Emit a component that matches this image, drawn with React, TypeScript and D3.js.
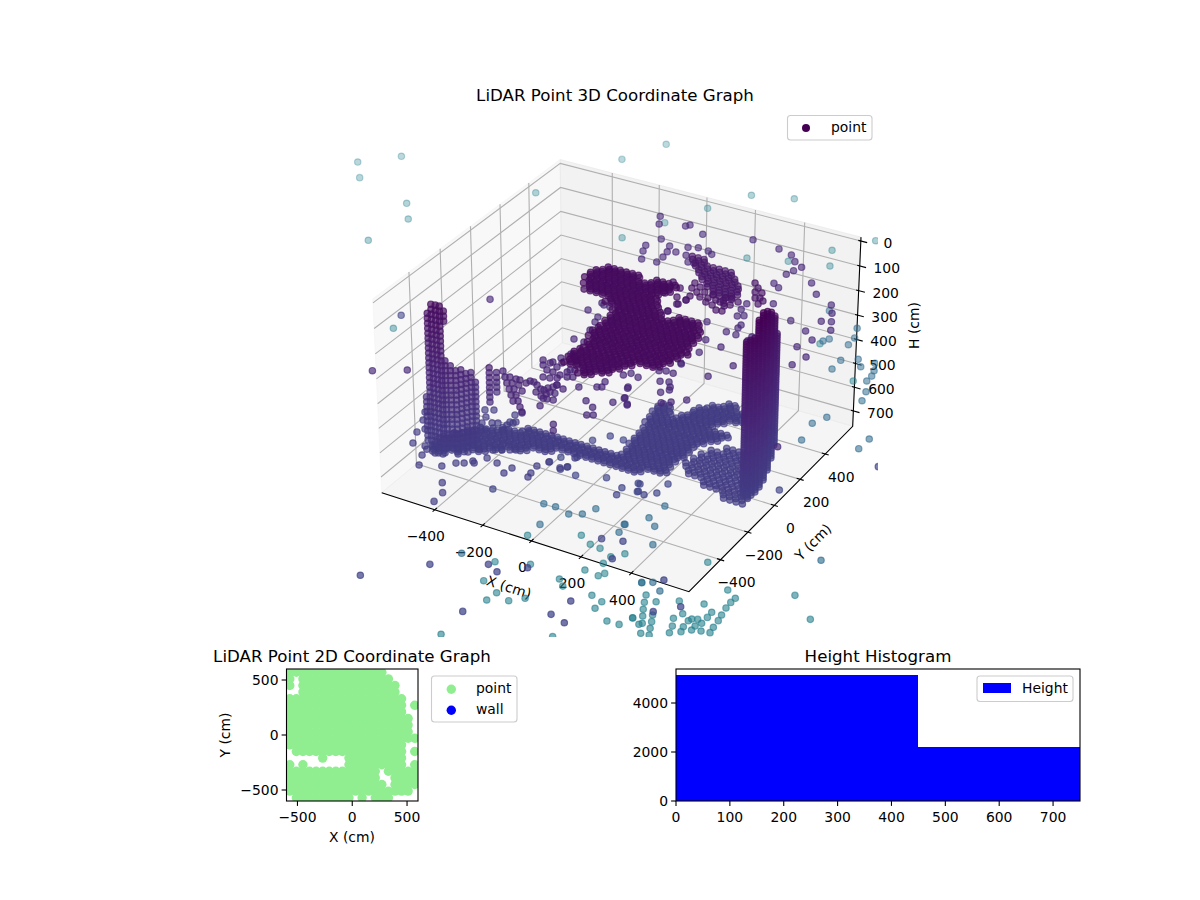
import { useEffect, useRef } from 'react';
import * as d3 from 'd3';

type Pair = [number, number];
type Point = [number, number, number];

// Height each group of scattered returns was read at (colour follows height)
const farHeight = 1700;
const midHeight = 1350;
const lowHeight = 800;
const innerHeight3d = 450;
const islandHeight = 400;
const chainHeight = 220;
const floorHeight = 700;
const ceilingHeight = 120;
const fanHeight = 250;

const farTop: Pair[] = [[-3315,3102],[-3162,3266],[-3208,2962],[-2852,2845],[-2753,2709],[-2796,2429],[-2366,3257],[-2185,3790],[-1761,3057],[-2216,1774],[-2077,4051],[-1436,3762],[-1237,3834],[-1555,3532],[-699,3635],[-835,3443],[-1148,3173],[-964,3241],[-773,3297],[-1661,3295],[-480,2613],[-204,2390]];

const tealLow: Pair[] = [[-170,488],[-113,467],[-151,441],[-131,397],[-110,356],[-80,381],[-61,340],[-87,312],[-44,298],[-59,251],[-25,257],[-138,326],[-37,517],[17,447],[1,402],[23,354],[35,309],[59,416],[65,433],[86,443],[62,371],[100,368],[112,427],[99,398],[135,380],[170,388],[164,426],[112,473],[110,512],[57,547],[159,475],[152,515],[144,566],[142,609],[144,643],[91,679],[70,338],[337,778],[464,661],[-71,812],[-808,391],[-775,254],[-686,208],[-693,146],[-616,185],[-569,231],[-676,446],[-522,414],[-485,378],[-353,380],[-297,361],[-297,309],[-213,257],[-161,261],[-137,325],[-721,-139],[-341,62],[-95,300],[-227,554],[-467,519],[-387,538],[-401,511],[-428,597],[-796,620],[-608,729],[-543,690],[-494,684],[-426,653],[-388,700]];

const blueMid: Pair[] = [[-305,2332],[-132,2252],[-104,2171],[-101,2105],[-70,1970],[-10,2014],[27,1963],[66,2019],[90,1961],[101,1916],[101,1869],[137,1788],[155,1714],[89,1523],[59,1451],[81,1313],[314,1456],[310,1368],[-209,2080],[-194,2109],[-69,1886],[-572,386],[-521,390],[-450,371],[-404,397],[-378,456],[-508,252],[-227,415],[-216,356],[-224,416],[-61,346],[-118,461],[-167,503],[-155,607],[29,102],[65,123],[116,86],[-661,-69],[543,571]];

const darkLow: Pair[] = [[-425,-1057],[-255,-881],[-80,-780],[-30,-804],[-3,-1065],[281,-830],[328,-951],[264,-931],[177,-445],[250,-422],[273,-536],[554,-745],[492,-561],[620,-673],[48,-730],[807,469],[-1321,547],[-325,-360],[569,148],[72,-121],[79,-171],[133,-116],[108,-66],[-10,-90],[-115,-132],[-170,-96],[-184,-124],[-245,-99],[-225,-52],[-174,-23],[-185,108],[-144,167],[-88,167],[116,-67],[135,-112],[164,-122],[198,-89],[203,-16]];

const purpleInner: Pair[] = [[-738,293],[-821,-371],[-715,-304],[-519,1205],[-490,1145],[-392,1182],[-381,1198],[-300,1154],[-109,1212],[-421,1039],[-447,963],[-433,917],[-405,857],[-364,1004],[-349,958],[-342,912],[-319,973],[-343,865],[-297,1030],[-261,1047],[-272,969],[-239,925],[-214,927],[-215,1043],[-190,1025],[14,1194],[78,1174],[115,1132],[158,1104],[144,1064],[133,1025],[248,1011],[304,940],[126,937],[157,915],[198,794],[390,894],[421,838],[314,711],[414,763],[448,779],[475,720],[397,669],[448,621],[423,549],[486,498],[468,423],[147,518],[184,408],[110,428],[134,334],[119,227],[287,310],[245,198],[49,549],[188,516],[170,590],[171,564],[247,499],[246,532],[-117,547],[-99,656],[-114,611],[112,744],[114,696],[126,643],[146,658],[96,156],[126,154],[73,145],[31,66],[-5,78],[-23,54],[684,-106],[-378,406],[-319,378],[-309,340],[-294,278],[-346,469],[-319,467],[-360,478],[-311,191],[-268,190],[-280,47],[-264,90],[114,233],[34,-11],[-118,-99],[-62,-67],[-47,-58],[164,64],[190,-48],[218,-26],[259,14],[113,81],[143,93],[153,14],[172,44],[62,-87],[91,-116],[-47,-169],[-4,-196],[5,-252],[25,-241],[41,-131],[62,-82],[94,-122],[37,-20],[-56,-20],[-194,-126],[-169,-180],[-150,-223],[-170,-280],[-187,-230],[-64,-365],[-42,-402]];

const islands: Pair[] = [[-366,-211],[-337,-244],[-309,-276],[-280,-308],[-252,-340],[-224,-372],[-322,-235],[-293,-267],[-265,-299],[-237,-331],[-209,-363],[-182,-394],[-158,-420],[-296,-236],[-265,-267],[-233,-297],[-280,-235],[-250,-242],[-245,-223],[-230,-222],[-209,-235],[-183,-252],[-187,-278],[-170,-252],[-149,-272],[-157,-293],[-165,-233],[-153,-218],[-144,-254],[-128,-300],[-264,-103],[-250,-78],[-214,-90],[-213,-57],[-162,-85],[-208,12],[-177,-11],[-128,-123],[-146,-133],[-175,-134],[-208,-128],[-234,-126],[-220,-176],[-195,-170],[-173,-157],[-164,-103],[-147,-77],[-245,-67],[-148,-199],[-115,-213],[-283,-72]];

const chain: Pair[] = [[78,375],[108,358],[101,319],[136,330],[133,372],[164,338],[169,367],[196,339],[202,300],[216,334],[243,315],[254,278],[232,274],[172,308],[220,371],[239,381],[272,366],[258,332],[100,396],[69,414],[258,523],[285,495],[315,468],[290,463],[326,432],[311,423],[346,417],[341,389],[-3,381],[41,354],[12,294],[64,289],[103,286],[93,245],[87,182],[-10,333]];

const floorScatter: Pair[] = [[-736,-170],[-711,-221],[-684,-303],[-670,-271],[-654,-375],[-580,-428],[-605,-370],[-547,-393],[-519,-384],[-478,-455],[-552,-490],[-472,-357],[-445,-413],[-420,-398],[-400,-371],[-389,-380],[-448,-328],[-367,-328],[-318,-339],[-428,-292],[-378,-271],[-350,-255],[-325,-240],[-306,-230],[-553,-47],[-524,-31],[-523,-88],[-513,-131],[-481,-113],[-462,-102],[-426,-98],[-477,-168],[-459,-141],[-423,-137],[-414,-75],[-409,-63],[-438,-23],[-423,2],[-428,-74],[-261,-384],[-254,-341],[-184,-285],[-161,-240],[-106,-255],[-87,-237],[-94,-170],[-173,-364],[-178,-336],[-374,-666],[-416,-548],[-379,-603]];

// LiDAR rings: the heights at which a wall is hit
const ringHeights = [20,30,40,50,60,70,80,90,100,110,120,130,140,150,160,170,180,190,200,210,220,230,240,250,260,270,280,290,300,310,320,330,340,350,360,370,380,390,400,410,420,430,440,450,460,470,480,490,500,510,520,530,540,550,560,570,580,590,600,610,620,630,640,650,660,670,680,690,700,710,720];
const coarseRingHeights = [100,120,140,160,180,200,220,240,260,280,300,320,340,360,380,400,420,440,460,480,500,520,540,560,580,600,620,640,660,680,700];

// Wall columns: x, y, top height, bottom height
const leftWall: [number, number, number, number][] = [[-618,-330,503,700],[-587,-352,153,700],[-571,-351,116,700],[-554,-349,103,700],[-538,-348,112,700],[-526,-341,140,181],[-526,-341,321,700],[-510,-332,346,700],[-494,-323,363,700],[-482,-308,375,700],[-471,-293,387,700],[-459,-278,400,700],[-465,-241,445,700]];
const rightWall: [number, number, number, number][] = [[533,-65,96,720],[548,-64,84,720],[554,-45,88,720],[557,-21,24,720],[554,16,20,720],[545,64,40,720],[526,131,72,720],[500,210,136,720],[468,295,260,720]];
const farWallColumns: [number, number, number, number][] = [[-383,-275,356,500],[-399,-203,418,500]];

// Scan rows: y, first x, hits along x every 25 cm
const ceilingRows: [number, number, string][] = [[200,-170,'######..####'],[160,-197,'#############'],[120,-198,'############'],[80,-179,'############'],[40,-153,'############'],[0,-43,'#########..####'],[-40,9,'##############'],[-80,24,'##############'],[-120,26,'##############'],[-160,30,'##############'],[-200,23,'###############'],[-240,30,'##############'],[-280,49,'#############'],[-320,56,'############'],[-360,44,'#########'],[-400,44,'########'],[-440,51,'#######'],[-480,130,'##']];
const fanRows: [number, number, string][] = [[640,-66,'###'],[600,-31,'#######'],[560,5,'#######'],[520,40,'#######'],[480,83,'######'],[440,130,'####'],[400,195,'#']];
const floorRows: [number, number, string][] = [[440,205,'##'],[400,157,'######'],[360,123,'########'],[320,-6,'##...######'],[280,-7,'###.######'],[240,4,'#############'],[200,7,'############'],[160,22,'##########'],[120,28,'#########'],[80,31,'#########'],[40,32,'#########'],[0,44,'########'],[-40,46,'########'],[-80,-347,'########################'],[-120,-430,'########################'],[-160,-502,'#############'],[-200,-532,'###########'],[-240,-563,'#########'],[-280,-584,'########'],[-320,-573,'#####'],[-360,-579,'###']];
const lowerFanRows: [number, number, string][] = [[160,346,'####'],[120,304,'######'],[80,285,'########'],[40,276,'##########'],[0,266,'###########'],[-40,299,'##########'],[-80,382,'########'],[-120,483,'####']];

// Repeat sweeps of the scanner: x and y shift of each pass
const densePasses: Pair[] = [[0,0],[12,-13],[-8,-26]];
const lightPasses: Pair[] = [[0,0],[12,-20]];

const xTicks3d = [-400, -200, 0, 200, 400];
const yTicks3d = [-400, -200, 0, 200, 400];
const hTicks3d = [0, 100, 200, 300, 400, 500, 600, 700];

// Plan view occupancy, one row per 60 cm from y = 570 down, columns from x = -570
const planRows = [
  '###############.....',
  '#.##############....',
  '#.###############...',
  '..###############...',
  '##################..',
  '##################.#',
  '##################..',
  '###################.',
  '###################.',
  '###################.',
  '####################',
  '##################..',
  '.#################.#',
  '.....#...#########..',
  '#.#......#########.#',
  '##############.#####',
  '##############..####',
  '###############.####',
  '###################.',
  '.#########.#.###....',
];
const planTicks = [-500, 0, 500];

const histBins: [number, number, number][] = [[0, 450, 5143], [450, 750, 2204]];
const histXTicks = [0, 100, 200, 300, 400, 500, 600, 700];
const histYTicks = [0, 2000, 4000];

const FONT = '"DejaVu Sans", sans-serif';
const fmt = (v: number) => String(v).replace('-', '\u2212');

function rowsToPairs(rows: [number, number, string][], passes: Pair[]): Pair[] {
  const out: Pair[] = [];
  passes.forEach(([dx, dy]) => {
    rows.forEach(([y, x0, mask]) => {
      [...mask].forEach((c, i) => {
        if (c === '#') out.push([x0 + i * 25 + dx, y + dy]);
      });
    });
  });
  return out;
}

export default function App() {
  const svgRef = useRef<SVGSVGElement>(null);

  useEffect(() => {
    if (!svgRef.current) return;
    const svg = d3.select(svgRef.current);
    svg.selectAll('*').remove();

    const text = (
      parent: any,
      x: number,
      y: number,
      s: string,
      anchor = 'middle',
      size = 13.9
    ) =>
      parent
        .append('text')
        .attr('x', x)
        .attr('y', y)
        .attr('dy', '0.36em')
        .attr('text-anchor', anchor)
        .style('font-family', FONT)
        .style('font-size', `${size}px`)
        .style('fill', '#000')
        .text(s);

    // ---- 3D axes: same camera as a default mplot3d view, elev 30 azim -60 ----
    const lim = { x: [-625, 625], y: [-625, 625], h: [-15.6, 765.6] };
    const bx = 1.143;
    const bz = 0.72;
    const xBox = d3.scaleLinear().domain(lim.x).range([-bx / 2, bx / 2]);
    const yBox = d3.scaleLinear().domain(lim.y).range([-bx / 2, bx / 2]);
    const hBox = d3.scaleLinear().domain(lim.h).range([bz / 2, -bz / 2]);
    const sx = d3.scaleLinear().domain([0, 1]).range([621.4, 621.4 + 3069.6]);
    const sy = d3.scaleLinear().domain([0, 1]).range([364.9, 364.9 - 3069.6]);
    const project = (x: number, y: number, h: number) => {
      const dX = xBox(x);
      const dY = yBox(y);
      const dZ = hBox(h);
      const xv = 0.8660254 * dX + 0.5 * dY;
      const yv = -0.25 * dX + 0.4330127 * dY + 0.8660254 * dZ;
      const dw = 0.4330127 * dX - 0.75 * dY + 0.5 * dZ;
      return [sx(xv / (10 - dw)), sy(yv / (10 - dw)), dw];
    };
    const [x0, x1] = lim.x;
    const [y0, y1] = lim.y;
    const [h0, h1] = lim.h;
    const poly = (pts: number[][]) =>
      pts.map((p) => project(p[0], p[1], p[2]).slice(0, 2).join(',')).join(' ');

    const panes = svg.append('g');
    panes.append('polygon').attr('points', poly([[x0, y0, h0], [x0, y1, h0], [x0, y1, h1], [x0, y0, h1]])).attr('fill', 'rgba(242,242,242,0.5)').attr('stroke', 'rgba(242,242,242,0.5)');
    panes.append('polygon').attr('points', poly([[x0, y1, h0], [x1, y1, h0], [x1, y1, h1], [x0, y1, h1]])).attr('fill', 'rgba(230,230,230,0.5)').attr('stroke', 'rgba(230,230,230,0.5)');
    panes.append('polygon').attr('points', poly([[x0, y0, h1], [x1, y0, h1], [x1, y1, h1], [x0, y1, h1]])).attr('fill', 'rgba(236,236,236,0.5)').attr('stroke', 'rgba(236,236,236,0.5)');

    const grid = svg.append('g').attr('fill', 'none').attr('stroke', '#b0b0b0').attr('stroke-width', 1.1);
    xTicks3d.forEach((t) => grid.append('polyline').attr('points', poly([[t, y0, h1], [t, y1, h1], [t, y1, h0]])));
    yTicks3d.forEach((t) => grid.append('polyline').attr('points', poly([[x1, t, h1], [x0, t, h1], [x0, t, h0]])));
    hTicks3d.forEach((t) => grid.append('polyline').attr('points', poly([[x0, y0, t], [x0, y1, t], [x1, y1, t]])));

    const axes = svg.append('g').attr('fill', 'none').attr('stroke', '#000').attr('stroke-width', 1.1);
    axes.append('polyline').attr('points', poly([[x0, y0, h1], [x1, y0, h1], [x1, y1, h1], [x1, y1, h0]]));
    xTicks3d.forEach((t) => axes.append('polyline').attr('points', poly([[t, y0 - 14, h1], [t, y0 + 14, h1]])));
    yTicks3d.forEach((t) => axes.append('polyline').attr('points', poly([[x1 - 14, t, h1], [x1 + 14, t, h1]])));
    hTicks3d.forEach((t) => axes.append('polyline').attr('points', poly([[x1 - 10, y1, t], [x1 + 25, y1, t]])));

    xTicks3d.forEach((t) => {
      const [px, py] = project(t, y0, h1);
      text(svg, px - 9, py + 26.5, fmt(t));
    });
    yTicks3d.forEach((t) => {
      const [px, py] = project(x1, t, h1);
      text(svg, px + 16, py + 22.5, fmt(t));
    });
    hTicks3d.forEach((t) => {
      const [px, py] = project(x1, y1, t);
      text(svg, px + 27, py + 2, fmt(t));
    });
    text(svg, 0, 0, 'X (cm)').attr('transform', 'translate(509,587) rotate(18)');
    text(svg, 0, 0, 'Y (cm)').attr('transform', 'translate(813,542) rotate(-45)');
    text(svg, 0, 0, 'H (cm)').attr('transform', 'translate(914,325.5) rotate(-90)');

    // ---- scatter ----
    const points: Point[] = [];
    const add = (pairs: Pair[], h: number) => pairs.forEach(([x, y]) => points.push([x, y, h]));
    add(farTop, farHeight);
    add(tealLow, farHeight);
    add(blueMid, midHeight);
    add(darkLow, lowHeight);
    add(purpleInner, innerHeight3d);
    add(islands, islandHeight);
    add(chain, chainHeight);
    add(floorScatter, floorHeight);
    add(rowsToPairs(ceilingRows, densePasses), ceilingHeight);
    add(rowsToPairs(fanRows, lightPasses), fanHeight);
    add(rowsToPairs(floorRows, densePasses), floorHeight);
    add(rowsToPairs(lowerFanRows, lightPasses), floorHeight);
    const addColumns = (cols: [number, number, number, number][], rings: number[]) =>
      cols.forEach(([x, y, top, bottom]) => {
        rings.filter((h) => h >= top && h <= bottom).forEach((h) => points.push([x, y, h]));
      });
    addColumns(leftWall, coarseRingHeights);
    addColumns(rightWall, ringHeights);
    addColumns(farWallColumns, coarseRingHeights);

    const color = d3.scaleSequential(d3.interpolateViridis).domain([0, 3900]);
    const alpha = d3.scaleLinear().domain([-4.2, 0.6]).range([0.3, 0.74]).clamp(true);
    const drawn = points
      .map((p) => ({ p, s: project(p[0], p[1], p[2]) }))
      .sort((a, b) => a.s[2] - b.s[2]);

    svg.append('clipPath').attr('id', 'clip3d').append('rect').attr('x', 300).attr('y', 100).attr('width', 578).attr('height', 537);
    svg
      .append('g')
      .attr('clip-path', 'url(#clip3d)')
      .selectAll('circle')
      .data(drawn)
      .join('circle')
      .attr('cx', (d) => d.s[0])
      .attr('cy', (d) => d.s[1])
      .attr('r', 3.2)
      .attr('fill', (d) => color(d.p[2]))
      .attr('stroke', (d) => color(d.p[2]))
      .attr('stroke-width', 1.2)
      .attr('fill-opacity', (d) => alpha(d.s[2]))
      .attr('stroke-opacity', (d) => alpha(d.s[2]));

    text(svg, 615, 95, 'LiDAR Point 3D Coordinate Graph', 'middle', 16.67);

    const legendBox = (x: number, y: number, w: number, h: number) =>
      svg.append('rect').attr('x', x).attr('y', y).attr('width', w).attr('height', h).attr('rx', 3).attr('fill', 'rgba(255,255,255,0.8)').attr('stroke', '#ccc').attr('stroke-width', 1.1);

    legendBox(787.5, 115.5, 84.5, 24.5);
    svg.append('circle').attr('cx', 806).attr('cy', 128).attr('r', 4).attr('fill', '#440154');
    text(svg, 831, 126.5, 'point', 'start');

    // ---- plan view ----
    const planBox = { left: 286.5, right: 418, top: 669, bottom: 801 };
    const px2 = d3.scaleLinear().domain([-600, 600]).range([planBox.left, planBox.right]);
    const py2 = d3.scaleLinear().domain([-600, 600]).range([planBox.bottom, planBox.top]);
    svg.append('clipPath').attr('id', 'clip2d').append('rect').attr('x', planBox.left).attr('y', planBox.top).attr('width', planBox.right - planBox.left).attr('height', planBox.bottom - planBox.top);
    const planPoints: Pair[] = [];
    planRows.forEach((row, j) => {
      [...row].forEach((c, i) => {
        if (c === '#') planPoints.push([-570 + i * 60, 570 - j * 60]);
      });
    });
    svg
      .append('g')
      .attr('clip-path', 'url(#clip2d)')
      .selectAll('circle')
      .data(planPoints)
      .join('circle')
      .attr('cx', (d) => px2(d[0]))
      .attr('cy', (d) => py2(d[1]))
      .attr('r', 4.7)
      .attr('fill', '#90ee90');

    const frame = (b: { left: number; right: number; top: number; bottom: number }) =>
      svg.append('rect').attr('x', b.left).attr('y', b.top).attr('width', b.right - b.left).attr('height', b.bottom - b.top).attr('fill', 'none').attr('stroke', '#000').attr('stroke-width', 1.1);
    const ticks = (
      xs: number[],
      ys: number[],
      sxx: d3.ScaleLinear<number, number>,
      syy: d3.ScaleLinear<number, number>,
      b: { left: number; bottom: number }
    ) => {
      xs.forEach((t) => {
        svg.append('line').attr('x1', sxx(t)).attr('x2', sxx(t)).attr('y1', b.bottom).attr('y2', b.bottom + 4.9).attr('stroke', '#000').attr('stroke-width', 1.1);
        text(svg, sxx(t), b.bottom + 16, fmt(t));
      });
      ys.forEach((t) => {
        svg.append('line').attr('x1', b.left - 4.9).attr('x2', b.left).attr('y1', syy(t)).attr('y2', syy(t)).attr('stroke', '#000').attr('stroke-width', 1.1);
        text(svg, b.left - 8, syy(t), fmt(t), 'end');
      });
    };

    frame(planBox);
    ticks(planTicks, planTicks, px2, py2, planBox);
    text(svg, 352, 655.5, 'LiDAR Point 2D Coordinate Graph', 'middle', 16.67);
    text(svg, 352, 837, 'X (cm)');
    text(svg, 0, 0, 'Y (cm)').attr('transform', 'translate(225,735) rotate(-90)');
    legendBox(431.5, 676, 85.5, 46);
    svg.append('circle').attr('cx', 451.3).attr('cy', 689.3).attr('r', 4.7).attr('fill', '#90ee90');
    svg.append('circle').attr('cx', 451.3).attr('cy', 710.3).attr('r', 4.7).attr('fill', '#0000ff');
    text(svg, 476, 688, 'point', 'start');
    text(svg, 476, 708.5, 'wall', 'start');

    // ---- histogram ----
    const histBox = { left: 676, right: 1080, top: 669, bottom: 801 };
    const hx = d3.scaleLinear().domain([0, 750]).range([histBox.left, histBox.right]);
    const hy = d3.scaleLinear().domain([0, 5388]).range([histBox.bottom, histBox.top]);
    svg
      .append('g')
      .attr('shape-rendering', 'crispEdges')
      .selectAll('rect')
      .data(histBins)
      .join('rect')
      .attr('x', (d) => hx(d[0]))
      .attr('y', (d) => hy(d[2]))
      .attr('width', (d) => hx(d[1]) - hx(d[0]))
      .attr('height', (d) => hy(0) - hy(d[2]))
      .attr('fill', '#0000ff');
    frame(histBox);
    ticks(histXTicks, histYTicks, hx, hy, histBox);
    text(svg, 878, 655.5, 'Height Histogram', 'middle', 16.67);
    legendBox(977, 676, 96, 25.5);
    svg.append('rect').attr('x', 983).attr('y', 683).attr('width', 28).attr('height', 10).attr('fill', '#0000ff');
    text(svg, 1022, 688, 'Height', 'start');
  }, []);

  return <svg ref={svgRef} width={1200} height={900} style={{ position: 'absolute', left: 0, top: 0 }} />;
}
